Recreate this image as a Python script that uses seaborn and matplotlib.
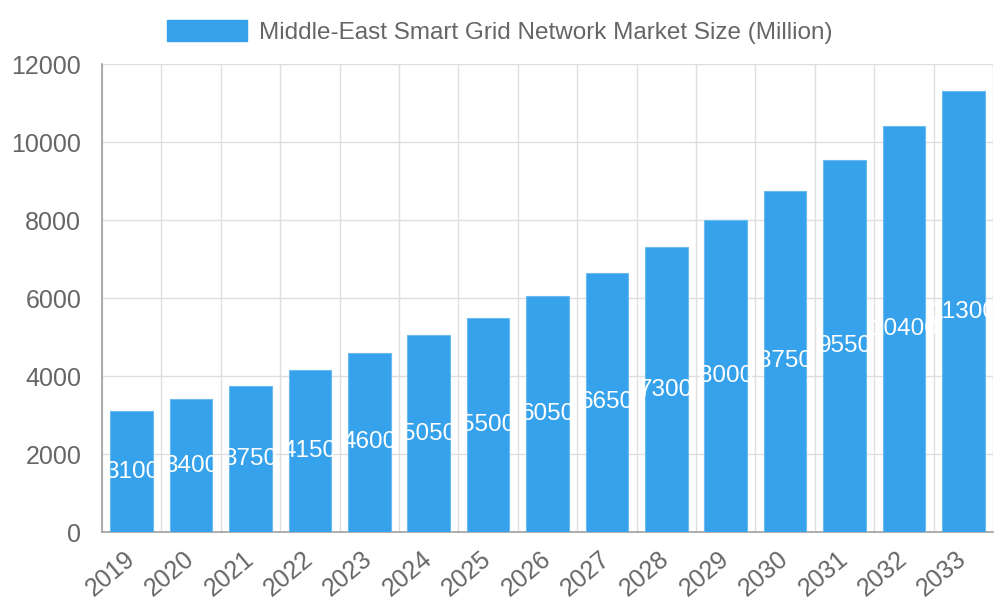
import numpy as np
import pandas as pd
import matplotlib
matplotlib.use("Agg")
import matplotlib.pyplot as plt
from matplotlib.patches import Patch
import seaborn as sns

years = ["2019", "2020", "2021", "2022", "2023", "2024", "2025", "2026",
         "2027", "2028", "2029", "2030", "2031", "2032", "2033"]
market_size = [3100, 3400, 3750, 4150, 4600, 5050, 5500, 6050,
               6650, 7300, 8000, 8750, 9550, 10400, 11300]
series_name = "Middle-East Smart Grid Network Market Size (Million)"

sns.set_style("white")
plt.rcParams['font.family'] = ['Liberation Sans', 'DejaVu Sans']

blue = '#36A2EB'
grey_text = '#666666'
grid_col = '#dedede'
axis_col = '#a0a0a0'

df = pd.DataFrame({"year": years, "value": market_size})

fig = plt.figure(figsize=(10, 6), dpi=100)
ax = fig.add_axes([0.102, 0.1133, 0.891, 0.78])

sns.barplot(data=df, x="year", y="value", color=blue, width=0.72,
            saturation=1, edgecolor='#6bbaf0', linewidth=0.8, ax=ax, zorder=3)

# value labels in the middle of each bar
for i, v in enumerate(market_size):
    ax.text(i, v / 2, f"{v}", color='white', ha='center', va='center',
            fontsize=17.5, zorder=4)

ax.set_xlim(-0.5, len(years) - 0.5)
ax.set_ylim(0, 12000)
ax.set_yticks(np.arange(0, 12001, 2000))
ax.set_xlabel("")
ax.set_ylabel("")

# gridlines at category boundaries
ax.set_xticks(np.arange(-0.5, len(years)), minor=True)
ax.tick_params(axis='x', which='minor', length=14, color=grid_col, width=1)
ax.tick_params(axis='x', which='major', length=0, pad=17)
ax.tick_params(axis='y', length=14, color=grid_col, width=1, pad=1)
ax.grid(True, which='minor', axis='x', color=grid_col, linewidth=1, zorder=0)
ax.grid(True, which='major', axis='y', color=grid_col, linewidth=1, zorder=0)
ax.set_axisbelow(True)

for lab in ax.get_xticklabels():
    lab.set_rotation(40)
    lab.set_ha('right')
    lab.set_rotation_mode('anchor')
    lab.set_va('center')
ax.tick_params(labelsize=18, labelcolor=grey_text)

for side in ['top', 'right']:
    ax.spines[side].set_visible(False)
for side in ['left', 'bottom']:
    ax.spines[side].set_color(axis_col)
    ax.spines[side].set_linewidth(1.2)

handle = Patch(facecolor=blue, edgecolor=blue)
fig.legend([handle], [series_name], loc='center', bbox_to_anchor=(0.5, 0.947),
           frameon=False, fontsize=17.5, labelcolor=grey_text,
           handlelength=3.3, handleheight=1.0, handletextpad=0.5)

fig.savefig("out.png", dpi=100)
